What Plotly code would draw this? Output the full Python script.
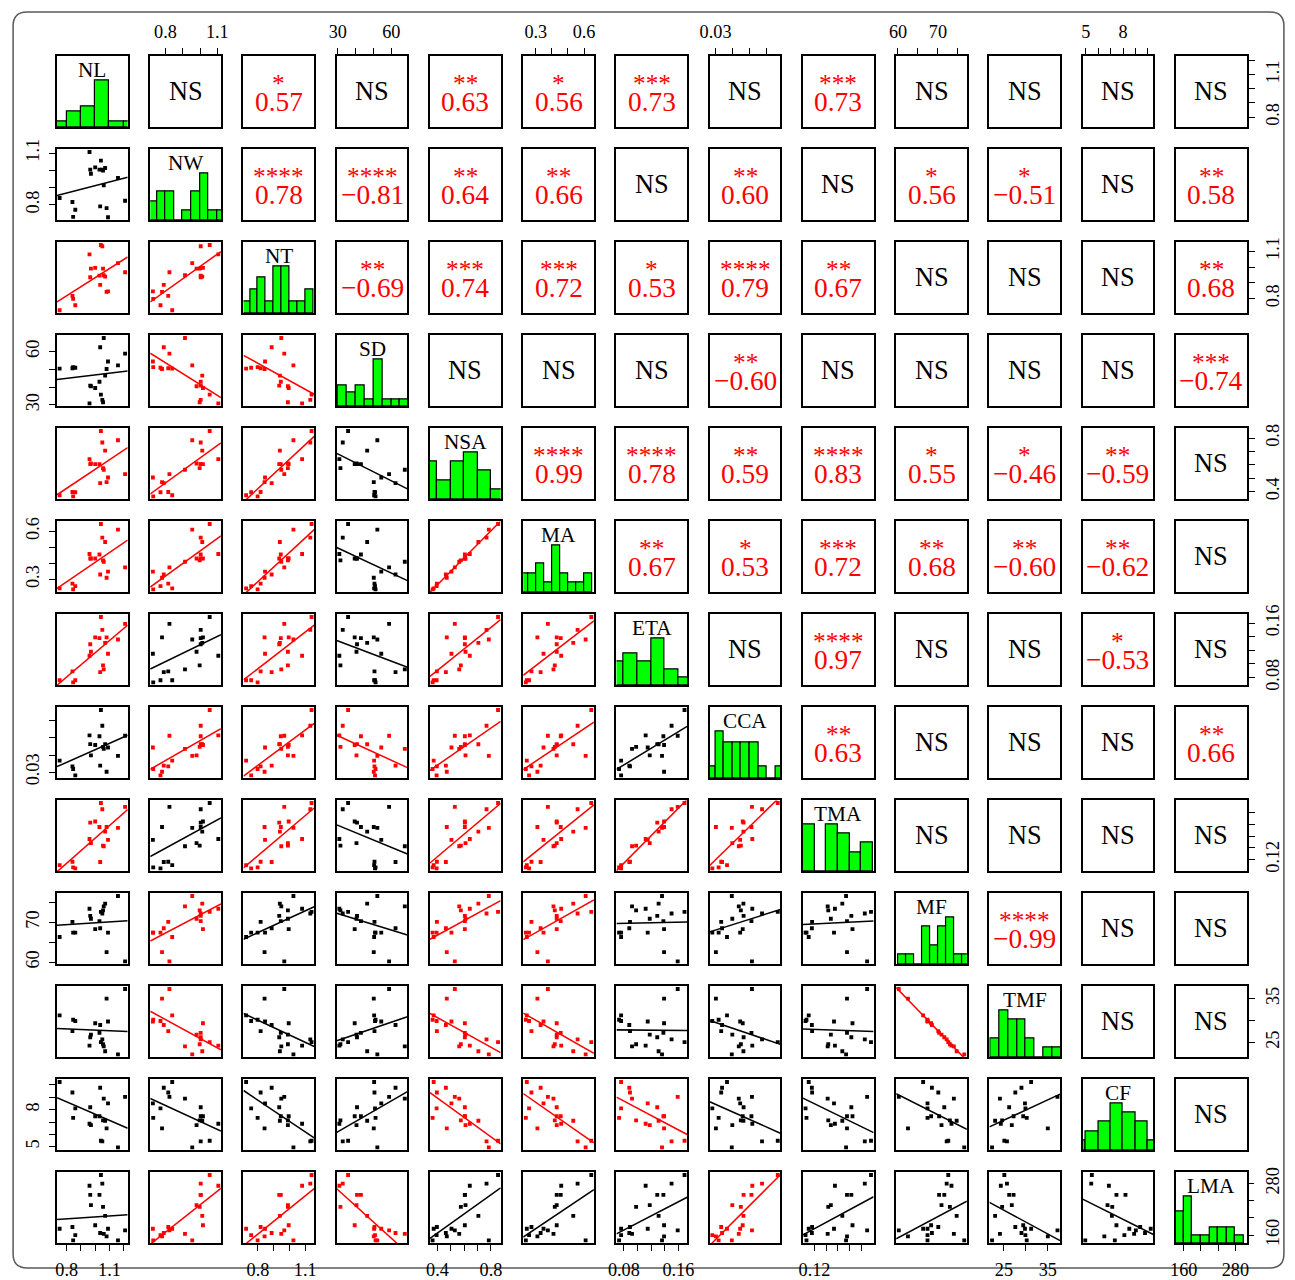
import numpy as np
import plotly.graph_objects as go

# ---- measured traits (19 samples) ----
variables = ["NL", "NW", "NT", "SD", "NSA", "MA", "ETA", "CCA", "TMA", "MF", "TMF", "CF", "LMA"]

NL = [0.75, 0.84, 0.845, 0.86, 0.96, 0.965, 0.97, 1.00, 1.03, 1.035, 1.04, 1.05, 1.055, 1.06, 1.07, 1.08, 1.09, 1.16, 1.21]
NW = [0.839, 0.816, 0.729, 0.771, 1.106, 1.004, 0.980, 1.017, 1.004, 0.790, 1.056, 1.004, 0.998, 0.913, 1.013, 0.780, 0.727, 0.955, 0.823]
NT = [0.725, 0.817, 0.798, 0.757, 1.080, 0.935, 0.990, 0.995, 0.945, 0.887, 1.140, 1.132, 0.990, 0.948, 0.939, 0.842, 0.845, 1.025, 0.967]
SD = [50.4, 50.6, 51.2, 50.9, 30.9, 40.8, 40.5, 39.5, 43.0, 62.4, 35.8, 32.8, 31.5, 67.6, 46.5, 50.2, 54.4, 52.2, 58.8]
NSA = [0.372, 0.396, 0.364, 0.394, 0.642, 0.605, 0.610, 0.605, 0.605, 0.463, 0.853, 0.767, 0.575, 0.563, 0.706, 0.470, 0.505, 0.784, 0.530]
MA = [0.244, 0.273, 0.238, 0.258, 0.458, 0.430, 0.430, 0.430, 0.455, 0.330, 0.645, 0.560, 0.418, 0.410, 0.533, 0.310, 0.348, 0.610, 0.375]
ETA = [0.076, 0.089, 0.073, 0.076, 0.112, 0.129, 0.118, 0.139, 0.138, 0.088, 0.169, 0.150, 0.098, 0.092, 0.131, 0.139, 0.115, 0.136, 0.159]
CCA = [0.0367, 0.0333, 0.0318, 0.0281, 0.0515, 0.0464, 0.0398, 0.0459, 0.0510, 0.0338, 0.0664, 0.0572, 0.0448, 0.0436, 0.0463, 0.0302, 0.0444, 0.0395, 0.0513]
TMA = [0.1151, 0.1180, 0.1132, 0.1124, 0.1375, 0.1515, 0.1340, 0.1525, 0.1478, 0.1178, 0.1683, 0.1630, 0.1318, 0.1313, 0.1438, 0.1478, 0.1367, 0.1470, 0.1650]
MF = [66.3, 70.1, 67.4, 67.4, 73.4, 71.6, 70.9, 68.3, 70.3, 68.5, 72.6, 72.2, 73.0, 74.0, 74.7, 62.5, 67.4, 76.6, 60.2]
TMF = [31.2, 27.6, 30.2, 29.9, 24.3, 26.2, 26.8, 29.4, 27.2, 29.0, 25.1, 25.7, 24.6, 24.1, 23.0, 35.0, 29.8, 22.3, 37.2]
CF = [10.24, 9.39, 7.34, 8.11, 6.86, 8.20, 6.75, 7.47, 7.47, 9.78, 5.48, 5.43, 7.13, 8.90, 7.10, 6.49, 8.51, 4.95, 9.04]
LMA = [175, 179, 148, 160, 275, 254, 230, 183, 254, 165, 300, 280, 226, 163, 205, 157, 175, 148, 171]

data = {"NL": NL, "NW": NW, "NT": NT, "SD": SD, "NSA": NSA, "MA": MA, "ETA": ETA,
        "CCA": CCA, "TMA": TMA, "MF": MF, "TMF": TMF, "CF": CF, "LMA": LMA}

# ---- correlation coefficients and significance, upper triangle by row ----
r_NL = [None, 0.57, None, 0.63, 0.56, 0.73, None, 0.73, None, None, None, None]
s_NL = ["", "*", "", "**", "*", "***", "", "***", "", "", "", ""]
r_NW = [0.78, -0.81, 0.64, 0.66, None, 0.60, None, 0.56, -0.51, None, 0.58]
s_NW = ["****", "****", "**", "**", "", "**", "", "*", "*", "", "**"]
r_NT = [-0.69, 0.74, 0.72, 0.53, 0.79, 0.67, None, None, None, 0.68]
s_NT = ["**", "***", "***", "*", "****", "**", "", "", "", "**"]
r_SD = [None, None, None, -0.60, None, None, None, None, -0.74]
s_SD = ["", "", "", "**", "", "", "", "", "***"]
r_NSA = [0.99, 0.78, 0.59, 0.83, 0.55, -0.46, -0.59, None]
s_NSA = ["****", "****", "**", "****", "*", "*", "**", ""]
r_MA = [0.67, 0.53, 0.72, 0.68, -0.60, -0.62, None]
s_MA = ["**", "*", "***", "**", "**", "**", ""]
r_ETA = [None, 0.97, None, None, -0.53, None]
s_ETA = ["", "****", "", "", "*", ""]
r_CCA = [0.63, None, None, None, 0.66]
s_CCA = ["**", "", "", "", "**"]
r_TMA = [None, None, None, None]
s_TMA = ["", "", "", ""]
r_MF = [-0.99, None, None]
s_MF = ["****", "", ""]
r_TMF = [None, None]
s_TMF = ["", ""]
r_CF = [None]
s_CF = [""]

corr_rows = [r_NL, r_NW, r_NT, r_SD, r_NSA, r_MA, r_ETA, r_CCA, r_TMA, r_MF, r_TMF, r_CF]
star_rows = [s_NL, s_NW, s_NT, s_SD, s_NSA, s_MA, s_ETA, s_CCA, s_TMA, s_MF, s_TMF, s_CF]

# ---- axis ticks and which ones carry a label ----
tick_vals = {
    "NL": [0.8, 0.9, 1.0, 1.1, 1.2], "NW": [0.8, 0.9, 1.0, 1.1], "NT": [0.8, 0.9, 1.0, 1.1],
    "SD": [30, 40, 50, 60], "NSA": [0.4, 0.5, 0.6, 0.7, 0.8], "MA": [0.3, 0.4, 0.5, 0.6],
    "ETA": [0.08, 0.10, 0.12, 0.14, 0.16], "CCA": [0.03, 0.04, 0.05, 0.06],
    "TMA": [0.12, 0.13, 0.14, 0.15, 0.16], "MF": [60, 65, 70, 75], "TMF": [25, 30, 35],
    "CF": [5, 6, 7, 8, 9, 10], "LMA": [160, 200, 240, 280],
}
tick_labels = {
    "NL": ["0.8", "1.1"], "NW": ["0.8", "1.1"], "NT": ["0.8", "1.1"], "SD": ["30", "60"],
    "NSA": ["0.4", "0.8"], "MA": ["0.3", "0.6"], "ETA": ["0.08", "0.16"], "CCA": ["0.03"],
    "TMA": ["0.12"], "MF": ["60", "70"], "TMF": ["25", "35"], "CF": ["5", "8"], "LMA": ["160", "280"],
}

SERIF = "Liberation Serif, Times New Roman, serif"
RED = "#FF0000"
GREEN = "#00FF00"


def r_pretty(lo, up, ndiv):
    """Break points chosen like R's pretty()."""
    h, h5 = 1.5, 0.5 + 1.5 * 1.5
    cell = (up - lo) / ndiv if ndiv > 1 else (up - lo)
    base = 10 ** np.floor(np.log10(cell))
    unit = base
    if 2 * base - cell < h * (cell - unit):
        unit = 2 * base
        if 5 * base - cell < h5 * (cell - unit):
            unit = 5 * base
            if 10 * base - cell < h * (cell - unit):
                unit = 10 * base
    ns = np.floor(lo / unit + 1e-7)
    nu = np.ceil(up / unit - 1e-7)
    while ns * unit > lo + 1e-10 * unit:
        ns -= 1
    while nu * unit < up - 1e-10 * unit:
        nu += 1
    return np.arange(ns, nu + 1) * unit


def hist_counts(x, breaks):
    x = np.asarray(x, float)
    fuzz = 1e-7 * np.median(np.diff(breaks))
    counts = []
    for k in range(len(breaks) - 1):
        lo = breaks[k] - fuzz if k == 0 else breaks[k] + fuzz
        counts.append(int(np.sum((x > lo) & (x <= breaks[k + 1] + fuzz))))
    return np.array(counts)


def usr_range(v):
    v = np.asarray(v, float)
    d = v.max() - v.min()
    return [v.min() - 0.04 * d, v.max() + 0.04 * d]


n = len(variables)
W, H = 1295, 1280
# the page shows the figure inside an 8px body margin, viewed at 1295/1311 scale
BODY = 8
S = W / (W + 2 * BODY)
LEFT0, TOP0, STEP, SIZE = 55.0, 54.5, 93.4, 70.8


def fx(p):
    return (p / S - BODY) / W


def fy(p):
    return 1 - (p / S - BODY) / H


def px(v):
    return v / S


def dom_x(j):
    return [fx(LEFT0 + j * STEP), fx(LEFT0 + j * STEP + SIZE)]


def dom_y(i):
    return [fy(TOP0 + i * STEP + SIZE), fy(TOP0 + i * STEP)]


def ax_id(k):
    return ("x" if k == 1 else f"x{k}"), ("y" if k == 1 else f"y{k}")


def tick_setup(var, side, vertical):
    vals = tick_vals[var]
    shown = [f"{v:.2f}" if var == "ETA" else f"{v:g}" for v in vals]
    text = [s if s in tick_labels[var] else "" for s in shown]
    out = dict(side=side, ticks="outside", ticklen=px(6), tickwidth=px(1.2), tickcolor="black",
               tickvals=vals, ticktext=text, showticklabels=True, ticklabelstandoff=3,
               tickfont=dict(family=SERIF, size=px(18), color="black"))
    if vertical:
        out["tickangle"] = -90
    return out


usr = {v: usr_range(data[v]) for v in variables}

fig = go.Figure()
layout = {}
annotations = []


def note(text, x, y, size, color, yshift=0):
    annotations.append(dict(text=text, x=x, y=y, xref="paper", yref="paper",
                            xanchor="center", yanchor="middle", yshift=px(yshift),
                            showarrow=False, font=dict(family=SERIF, size=px(size), color=color)))


for i, vy in enumerate(variables):
    for j, vx in enumerate(variables):
        k = i * n + j + 1
        xa, ya = ax_id(k)
        xkey = "xaxis" if k == 1 else f"xaxis{k}"
        ykey = "yaxis" if k == 1 else f"yaxis{k}"
        base_ax = dict(showline=True, mirror=True, linecolor="black", linewidth=px(1.8),
                       showgrid=False, zeroline=False, fixedrange=True,
                       ticks="", showticklabels=False)
        xax = dict(base_ax, domain=dom_x(j), anchor=ya, range=usr[vx])
        yax = dict(base_ax, domain=dom_y(i), anchor=xa, range=usr[vy])

        if i == 0 and j % 2 == 1:
            xax.update(tick_setup(vx, "top", False))
        if i == n - 1 and j % 2 == 0:
            xax.update(tick_setup(vx, "bottom", False))
        if j == 0 and i % 2 == 1:
            yax.update(tick_setup(vy, "left", True))
        if j == n - 1 and i % 2 == 0 and i != j:
            yax.update(tick_setup(vy, "right", True))

        cx = (dom_x(j)[0] + dom_x(j)[1]) / 2
        cy = (dom_y(i)[0] + dom_y(i)[1]) / 2

        if i == j:
            # diagonal: histogram scaled to its tallest bar, variable name on top
            vals = data[vx]
            breaks = r_pretty(min(vals), max(vals), int(np.ceil(np.log2(len(vals)) + 1)))
            counts = hist_counts(vals, breaks)
            mids = (breaks[:-1] + breaks[1:]) / 2
            fig.add_trace(go.Bar(x=mids, y=counts / counts.max(), width=np.diff(breaks),
                                 marker=dict(color=GREEN, line=dict(color="black", width=px(1.2))),
                                 xaxis=xa, yaxis=ya, showlegend=False, hoverinfo="skip"))
            yax["range"] = [0, 1.5]
            note(vx, cx, dom_y(i)[1], 21, "black", yshift=-13)
            if j == n - 1:
                # right-hand scale of the last variable on its own overlay axis
                extra = n * n + 1
                layout[f"yaxis{extra}"] = dict(overlaying=ya, anchor=xa, range=usr[vy],
                                               showgrid=False, zeroline=False, showline=False,
                                               fixedrange=True, **tick_setup(vy, "right", True))
                fig.add_trace(go.Scatter(x=data[vx], y=data[vy], mode="markers",
                                         marker=dict(opacity=0), xaxis=xa, yaxis=f"y{extra}",
                                         showlegend=False, hoverinfo="skip"))
        elif i > j:
            # lower triangle: scatter with least-squares line
            r = corr_rows[j][i - j - 1]
            color = RED if r is not None else "black"
            x = np.asarray(data[vx], float)
            y = np.asarray(data[vy], float)
            fig.add_trace(go.Scatter(x=x, y=y, mode="markers", xaxis=xa, yaxis=ya,
                                     marker=dict(symbol="square", size=px(3.8), color=color),
                                     showlegend=False, hoverinfo="skip"))
            slope, icpt = np.polyfit(x, y, 1)
            lx = np.array(usr[vx])
            fig.add_trace(go.Scatter(x=lx, y=icpt + slope * lx, mode="lines", xaxis=xa, yaxis=ya,
                                     line=dict(color=color, width=px(1.5)),
                                     showlegend=False, hoverinfo="skip"))
        else:
            # upper triangle: hidden pair so the panel box is drawn, then the coefficient text
            fig.add_trace(go.Scatter(x=data[vx], y=data[vy], mode="markers",
                                     marker=dict(opacity=0), xaxis=xa, yaxis=ya,
                                     showlegend=False, hoverinfo="skip"))
            r = corr_rows[i][j - i - 1]
            stars = star_rows[i][j - i - 1]
            if r is None:
                note("NS", cx, cy, 26, "black")
            else:
                label = f"{abs(r):.2f}"
                if r < 0:
                    label = "\u2212" + label
                note(stars, cx, cy, 25, RED, yshift=8.5)
                note(label, cx, cy, 27, RED, yshift=-10)

        layout[xkey] = xax
        layout[ykey] = yax

# outer rounded frame
bx0, bx1 = fx(11), fx(1284)
by0, by1 = max(fy(1276), 0.0008), fy(10)
rx, ry = px(14) / W, px(14) / H
frame = (f"M {bx0 + rx},{by1} L {bx1 - rx},{by1} Q {bx1},{by1} {bx1},{by1 - ry} "
         f"L {bx1},{by0 + ry} Q {bx1},{by0} {bx1 - rx},{by0} L {bx0 + rx},{by0} "
         f"Q {bx0},{by0} {bx0},{by0 + ry} L {bx0},{by1 - ry} Q {bx0},{by1} {bx0 + rx},{by1} Z")

fig.update_layout(
    width=W, height=H, margin=dict(l=0, r=0, t=0, b=0),
    paper_bgcolor="white", plot_bgcolor="white", bargap=0, showlegend=False,
    annotations=annotations,
    shapes=[dict(type="path", path=frame, xref="paper", yref="paper",
                 line=dict(color="#5a5a5a", width=px(1.5)), layer="below")],
    **layout,
)

fig.write_html("out.html")
